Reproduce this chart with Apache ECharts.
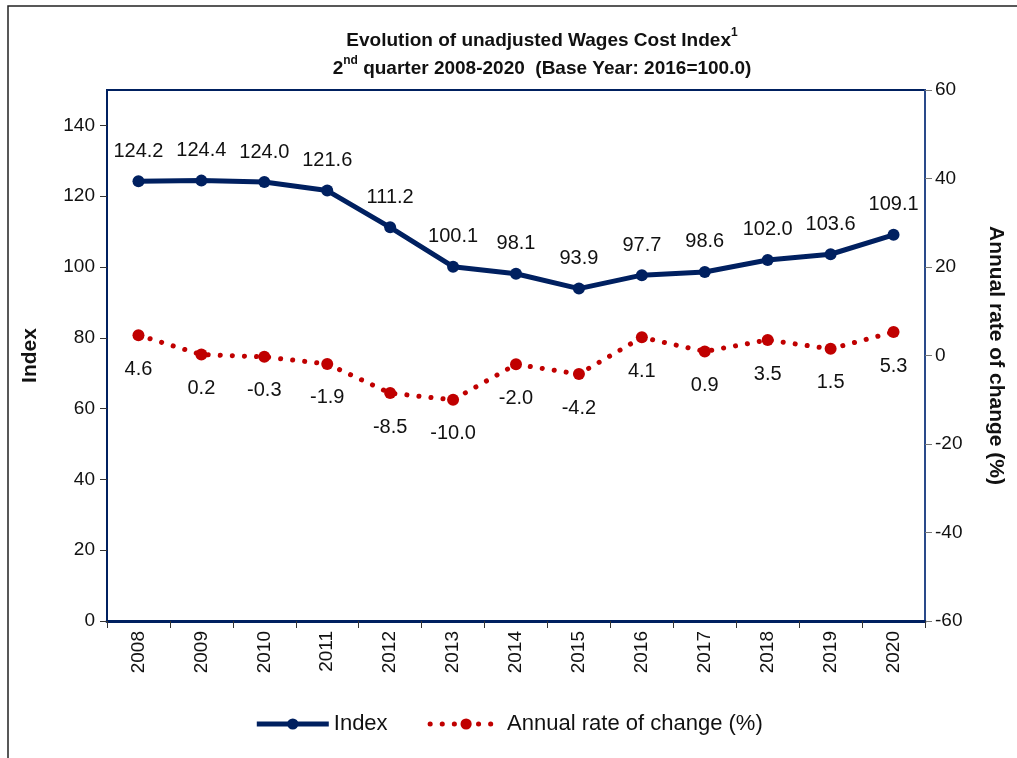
<!DOCTYPE html>
<html>
<head>
<meta charset="utf-8">
<script src="https://cdn.jsdelivr.net/npm/echarts@6/dist/echarts.min.js"></script>
<style>
  html, body { margin: 0; padding: 0; background: #fff; }
  #chart { width: 1017px; height: 758px; }
</style>
</head>
<body>
<div id="chart"></div>
<script>
// data
const years = ['2008', '2009', '2010', '2011', '2012', '2013', '2014', '2015', '2016', '2017', '2018', '2019', '2020'];
const indexValues = [124.2, 124.4, 124.0, 121.6, 111.2, 100.1, 98.1, 93.9, 97.7, 98.6, 102.0, 103.6, 109.1];
const rateValues = [4.6, 0.2, -0.3, -1.9, -8.5, -10.0, -2.0, -4.2, 4.1, 0.9, 3.5, 1.5, 5.3];
// axis ranges
const indexAxis = [0, 150, 20];
const rateAxis = [-60, 60, 20];

const navy = '#002060';
const red = '#c00000';
const font = "'Liberation Sans', Arial, sans-serif";

let chart = echarts.init(document.getElementById('chart'), null, { renderer: 'canvas' });

let option = {
  backgroundColor: '#fff',
  animation: false,
  title: {
    text: '{t|Evolution of unadjusted Wages Cost Index}{s|1}\n{t|2}{s|nd}{t| quarter 2008-2020  (Base Year: 2016=100.0)}',
    left: 537,
    top: 22,
    textAlign: 'center',
    textStyle: {
      rich: {
        t: { fontFamily: font, fontWeight: 'bold', fontSize: 19, color: '#111', lineHeight: 28 },
        s: { fontFamily: font, fontWeight: 'bold', fontSize: 12, color: '#111', verticalAlign: 'top', lineHeight: 28, padding: [0, 0, 8, 0] }
      }
    }
  },
  graphic: [{
    type: 'rect',
    shape: { x: 8, y: 6, width: 1030, height: 800 },
    style: { fill: 'none', stroke: '#222', lineWidth: 1.5 },
    silent: true
  }],
  legend: {
    bottom: 18,
    left: 'center',
    itemWidth: 72,
    itemHeight: 14,
    itemGap: 40,
    lineStyle: { width: 5 },
    textStyle: { fontFamily: font, fontSize: 22, color: '#111' },
    data: ['Index', 'Annual rate of change (%)']
  },
  grid: {
    left: 107, right: 92, top: 90, bottom: 137,
    show: true, borderColor: navy, borderWidth: 2
  },
  xAxis: {
    type: 'category',
    data: years,
    boundaryGap: true,
    axisLine: { lineStyle: { color: navy, width: 3 } },
    axisTick: { show: true, length: 7, lineStyle: { color: '#333', width: 1 } },
    axisLabel: { rotate: 90, fontFamily: font, fontSize: 19, color: '#111', margin: 10 }
  },
  yAxis: [{
    type: 'value',
    min: indexAxis[0], max: indexAxis[1], interval: indexAxis[2],
    name: 'Index',
    nameLocation: 'middle',
    nameGap: 66,
    nameRotate: 90,
    nameTextStyle: { fontFamily: font, fontWeight: 'bold', fontSize: 21, color: '#111' },
    splitLine: { show: false },
    axisLine: { show: true, lineStyle: { color: navy, width: 2 } },
    axisTick: { show: true, length: 7, lineStyle: { color: '#333' } },
    axisLabel: { fontFamily: font, fontSize: 19, color: '#111', margin: 12, showMaxLabel: false }
  }, {
    type: 'value',
    position: 'right',
    min: rateAxis[0], max: rateAxis[1], interval: rateAxis[2],
    name: 'Annual rate of change (%)',
    nameLocation: 'middle',
    nameGap: 60,
    nameRotate: -90,
    nameTextStyle: { fontFamily: font, fontWeight: 'bold', fontSize: 21, color: '#111' },
    splitLine: { show: false },
    axisLine: { show: true, lineStyle: { color: '#2a4a8a', width: 2 } },
    axisTick: { show: true, length: 7, lineStyle: { color: '#777' } },
    axisLabel: { fontFamily: font, fontSize: 19, color: '#111', margin: 10 }
  }],
  series: [{
    name: 'Index',
    type: 'line',
    yAxisIndex: 0,
    data: indexValues,
    symbol: 'circle',
    symbolSize: 12,
    color: navy,
    lineStyle: { color: navy, width: 5 },
    itemStyle: { color: navy },
    label: {
      show: true, position: 'top', distance: 14,
      fontFamily: font, fontSize: 20, color: '#111',
      formatter: p => p.value.toFixed(1)
    }
  }, {
    name: 'Annual rate of change (%)',
    type: 'line',
    yAxisIndex: 1,
    data: rateValues,
    symbol: 'circle',
    symbolSize: 12,
    color: red,
    lineStyle: { color: red, width: 5, type: [0.1, 12], cap: 'round' },
    itemStyle: { color: red },
    label: {
      show: true, position: 'bottom', distance: 18,
      fontFamily: font, fontSize: 20, color: '#111',
      formatter: p => p.value.toFixed(1)
    }
  }]
};

chart.setOption(option);
</script>
</body>
</html>
